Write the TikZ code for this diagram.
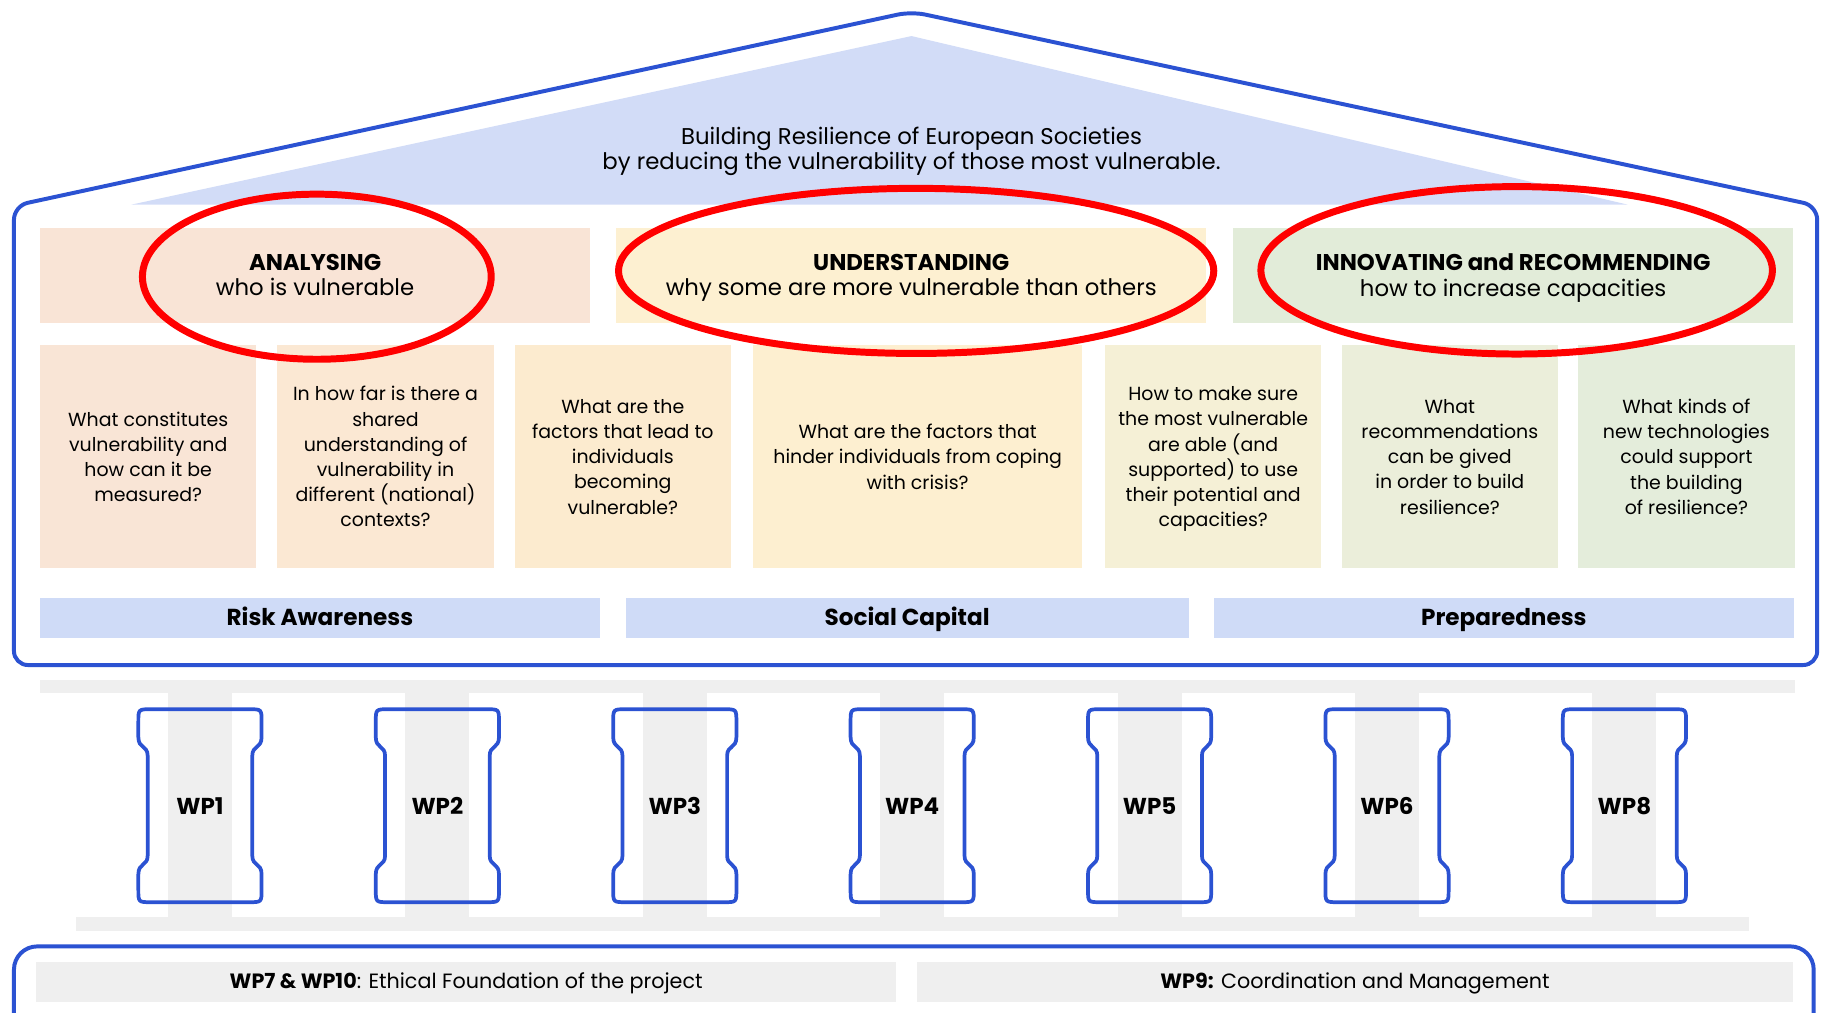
\documentclass[tikz,border=0pt]{standalone}
\usepackage{fontspec}
\setmainfont{Poppins}

\definecolor{frameblue}{HTML}{2B52D2}
\definecolor{roofblue}{HTML}{D2DCF7}
\definecolor{barblue}{HTML}{CFDBF7}
\definecolor{wallgray}{HTML}{EFEFEF}
\definecolor{headA}{HTML}{F9E4D6}
\definecolor{headU}{HTML}{FDF0D1}
\definecolor{headI}{HTML}{E2ECD9}
\definecolor{qA}{HTML}{F9E5D6}
\definecolor{qB}{HTML}{FBE8D3}
\definecolor{qC}{HTML}{FCEBCF}
\definecolor{qD}{HTML}{FDEFD0}
\definecolor{qE}{HTML}{F5F0D6}
\definecolor{qF}{HTML}{EBEEDA}
\definecolor{qG}{HTML}{E4EDDB}

\begin{document}
\begin{tikzpicture}[x=1pt,y=-1pt,
    box/.style={inner sep=0pt, align=center},
    head/.style={box, minimum height=81pt, text depth=1pt, font=\fontsize{19.6}{22}\selectfont},
    quest/.style={box, minimum width=186pt, minimum height=191.5pt, text depth=-3pt, font=\fontsize{16.3}{21.7}\selectfont},
    bar/.style={box, fill=barblue, minimum height=34.5pt, text height=16pt, text depth=2pt, font=\bfseries\fontsize{19.9}{22}\selectfont},
    found/.style={box, fill=wallgray, minimum height=35pt, text height=15pt, text depth=4pt, font=\fontsize{17.8}{21}\selectfont},
    wplabel/.style={font=\bfseries\fontsize{19.8}{22}\selectfont},
    ring/.style={draw=red, line width=6pt},
    frame/.style={draw=frameblue, line width=3.4pt, rounded corners=12pt},
    pillar/.style={draw=frameblue, line width=3.2pt}]
    \useasboundingbox (0,0) rectangle (1568,871);
    \clip (0,0) rectangle (1568,871);

    % Roof
    \fill[roofblue] (113,176) -- (784,31) -- (1400,176) -- cycle;
    \node[box, font=\fontsize{19.6}{21.5}\selectfont] (goal) at (784,130)
        {Building Resilience of European Societies\\by reducing the vulnerability of those most vulnerable.};

    % Headers
    \node[head, fill=headA, minimum width=473pt] (analysing) at (271,237) {\textbf{ANALYSING}\\who is vulnerable};
    \node[head, fill=headU, minimum width=507.5pt] (understanding) at (783.8,237) {\textbf{UNDERSTANDING}\\why some are more vulnerable than others};
    \node[head, fill=headI, minimum width=482pt] (innovating) at (1301.5,237) {\textbf{INNOVATING and RECOMMENDING}\\how to increase capacities};

    % Questions
    \node[quest, fill=qA] (q1) at (127.5,392.75) {What constitutes\\vulnerability and\\how can it be\\measured?};
    \node[quest, fill=qB] (q2) at (331.6,392.75) {In how far is there a\\shared\\understanding of\\vulnerability in\\different (national)\\contexts?};
    \node[quest, fill=qC] (q3) at (535.7,392.75) {What are the\\factors that lead to\\individuals\\becoming\\vulnerable?};
    \node[quest, fill=qD, minimum width=283pt] (q4) at (789.3,392.75) {What are the factors that\\hinder individuals from coping\\with crisis?};
    \node[quest, fill=qE] (q5) at (1043.5,392.75) {How to make sure\\the most vulnerable\\are able (and\\supported) to use\\their potential and\\capacities?};
    \node[quest, fill=qF] (q6) at (1247,392.75) {What\\recommendations\\can be gived\\in order to build\\resilience?};
    \node[quest, fill=qG] (q7) at (1450.5,392.75) {What kinds of\\new technologies\\could support\\the building\\of resilience?};

    % Pillars of the roof
    \node[bar, minimum width=481.6pt] (risk) at (275.2,531.3) {Risk Awareness};
    \node[bar, minimum width=484.4pt] (social) at (780.2,531.3) {Social Capital};
    \node[bar, minimum width=499pt] (prep) at (1293.5,531.3) {Preparedness};

    % Red rings
    \draw[ring] (272.5,238) ellipse [x radius=150, y radius=71];
    \draw[ring] (788,233) ellipse [x radius=256, y radius=71];
    \draw[ring] (1304.5,232.5) ellipse [x radius=220, y radius=72];

    % House frame
    \draw[frame] (12,572) -- (12,177) -- (784,10) -- (1563,177) -- (1563,572) -- cycle;

    % Work packages
    \fill[wallgray] (34,585) rectangle (1544,596);
    \fill[wallgray] (65,789) rectangle (1504,801);
    \foreach \x/\wp in {172/1, 376.2/2, 580.4/3, 784.6/4, 988.8/5, 1193/6, 1397.2/8} {
        \fill[wallgray] (\x-27.5,596) rectangle (\x+27.5,789);
        \draw[pillar, shift={(\x,0)}]
            (-45,650) .. controls (-45,641) and (-53,644) .. (-53,634)
            -- (-53,621) .. controls (-53,610) .. (-42,610)
            -- (42,610) .. controls (53,610) .. (53,621)
            -- (53,634) .. controls (53,644) and (45,641) .. (45,650)
            -- (45,736) .. controls (45,745) and (53,742) .. (53,752)
            -- (53,765) .. controls (53,776) .. (42,776)
            -- (-42,776) .. controls (-53,776) .. (-53,765)
            -- (-53,752) .. controls (-53,742) and (-45,745) .. (-45,736)
            -- cycle;
        \node[wplabel] (wp\wp) at (\x,693) {WP\wp};
    }

    % Foundation
    \draw[frame, rounded corners=20pt] (12,890) -- (12,814) -- (1560,814) -- (1560,890);
    \node[found, minimum width=740pt] (ethics) at (401,844.5) {\textbf{WP7 \& WP10}: Ethical Foundation of the project};
    \node[found, minimum width=753pt] (coord) at (1165.5,844.5) {\textbf{WP9:} Coordination and Management};
\end{tikzpicture}
\end{document}
